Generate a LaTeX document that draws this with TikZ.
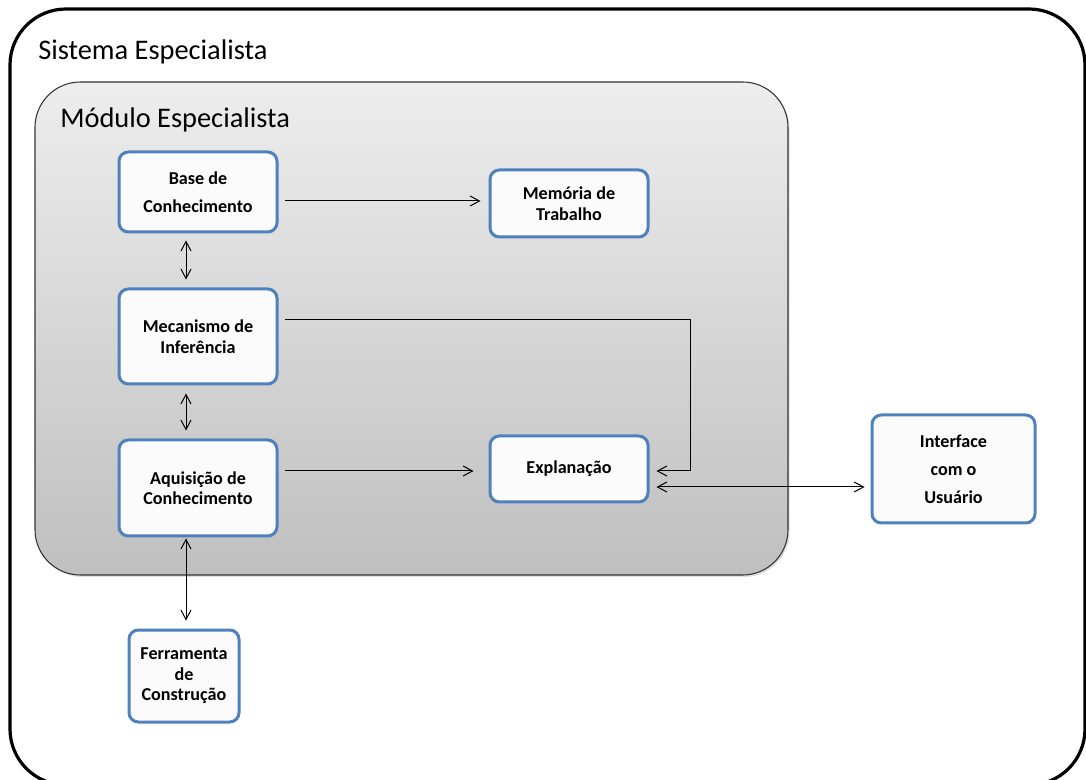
\documentclass[tikz,border=0pt]{standalone}
\usepackage{fontspec}
\setmainfont{Carlito}
\usetikzlibrary{arrows.meta,calc,shadows}
\definecolor{boxblue}{RGB}{79,129,189}
\begin{document}
\begin{tikzpicture}[x=0.75pt,y=-0.75pt,
  unitbox/.style={draw=boxblue, line width=2.25pt, rounded corners=7pt,
    fill=white!98.5!black, align=center, inner sep=0pt,
    font=\fontsize{13.6}{15.4}\selectfont\bfseries},
  widelines/.style={font=\fontsize{13.6}{21}\selectfont\bfseries},
  tip/.tip={Straight Barb[length=7pt,width=7.5pt]},
  conn/.style={line width=0.75pt, -tip},
  biconn/.style={line width=0.75pt, tip-tip},
  heading/.style={anchor=base west, inner sep=0pt, font=\fontsize{21.3}{24}\selectfont},
]
\useasboundingbox (0,0) rectangle (1086,780);
\fill[white] (0,0) rectangle (1086,780);

% outer system frame
\draw[line width=2.4pt, rounded corners=42pt] (10,9) rectangle (1085,785);
\node[heading] (sys) at (38,60) {Sistema Especialista};

% expert module panel
\path[draw=black!80, line width=0.8pt, rounded corners=34pt,
  top color=black!7, bottom color=black!25,
  drop shadow={shadow xshift=1.2pt, shadow yshift=-1.5pt, opacity=0.25}]
  (35,82) rectangle (788,575);
\node[heading] (mod) at (60,128) {Módulo Especialista};

% components
\node[unitbox, widelines, minimum width=118.5pt, minimum height=60pt] (base) at (198,192) {Base de\\Conhecimento};
\node[unitbox, minimum width=118.5pt, minimum height=50.25pt] (mem) at (569,203.5) {Memória de\\Trabalho};
\node[unitbox, minimum width=118.5pt, minimum height=71.25pt] (mech) at (198,336.5) {Mecanismo de\\Inferência};
\node[unitbox, minimum width=118.5pt, minimum height=72pt] (aq) at (198,488) {Aquisição de\\Conhecimento};
\node[unitbox, minimum width=118.5pt, minimum height=49.5pt] (expl) at (569,469) {Explanação};
\node[unitbox, widelines, minimum width=122.25pt, minimum height=81pt] (ui) at (953.5,469) {Interface\\com o\\Usuário};
\node[unitbox, minimum width=82.5pt, minimum height=69pt] (tool) at (184,676) {Ferramenta\\de\\Construção};

% connectors
\draw[conn] ($(base.east)+(6,9)$) -- ($(mem.west |- base.east)+(-8,9)$);
\draw[biconn] ($(base.south)+(-12,7)$) -- ($(mech.north)+(-12,-8)$);
\draw[biconn] ($(mech.south)+(-12,8)$) -- ($(aq.north)+(-12,-8)$);
\draw[conn] ($(mech.east)+(6,-16.5)$) -| ($(expl.east)+(41,2)$) -- ($(expl.east)+(7,2)$);
\draw[conn] ($(aq.east)+(6,-17)$) -- ($(expl.west |- aq.east)+(-15,-17)$);
\draw[biconn] ($(expl.east)+(7,18)$) -- ($(ui.west |- expl.east)+(-6,18)$);
\draw[biconn] ($(aq.south)+(-12,1)$) -- ($(tool.north)+(2,-8)$);
\end{tikzpicture}
\end{document}
